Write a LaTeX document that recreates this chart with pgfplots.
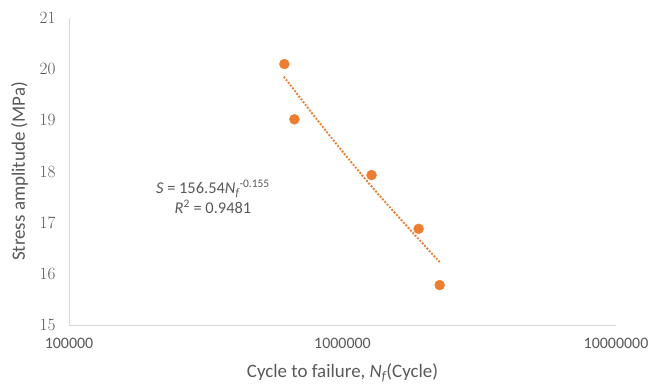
\documentclass[border=0pt]{standalone}
\usepackage{pgfplots}
\pgfplotsset{compat=1.18}
\usepackage{fontspec}
\setmainfont{Carlito}
\definecolor{txt}{HTML}{595959}
\definecolor{axl}{HTML}{D9D9D9}
\definecolor{pts}{HTML}{ED7D31}
\begin{document}
\begin{tikzpicture}
\useasboundingbox (-69bp,-61bp) rectangle (584bp,325bp);
\begin{axis}[
  at={(0,0)}, anchor=south west,
  scale only axis,
  width=547bp, height=307bp,
  xmode=log,
  xmin=1e5, xmax=1e7,
  ymin=15, ymax=21,
  xtick={1e5,1e6,1e7},
  xticklabels={100000,1000000,10000000},
  ytick={15,16,17,18,19,20,21},
  axis x line*=bottom, axis y line*=left,
  axis line style={axl, line width=0.9pt, -},
  major tick length=0pt,
  minor tick num=0,
  log basis x=10,
  every tick label/.style={font=\fontsize{16}{18}\selectfont, text=txt},
  xticklabel style={yshift=-10bp},
  yticklabel style={xshift=-10bp},
  xlabel={Cycle to failure, \textit{N\textsubscript{f}}(Cycle)},
  ylabel={Stress amplitude (MPa)},
  label style={font=\fontsize{19}{21}\selectfont, text=txt},
  xlabel style={yshift=-8bp},
  ylabel style={yshift=5bp},
  clip=false,
]
% fitted power law S = 156.54 N_f^-0.155
\addplot[pts, line width=2.7pt, dash pattern=on 0pt off 3.5pt, line cap=round, smooth] coordinates {
  (613000,19.84) (800000,19.04) (1000000,18.39) (1300000,17.66) (1700000,16.96) (2266000,16.23)
};
% measured fatigue points
\addplot[only marks, mark=*, mark size=5pt, pts] coordinates {
  (613000,20.10) (667000,19.02) (1277000,17.93) (1898000,16.88) (2266000,15.78)
};
\node[align=center, text=txt, font=\fontsize{16.5}{20}\selectfont] at (axis cs:336000,17.5)
  {\textit{S} = 156.54\textit{N\textsubscript{f}}\textsuperscript{-0.155}\\ \textit{R}\textsuperscript{2} = 0.9481};
\end{axis}
\end{tikzpicture}
\end{document}
